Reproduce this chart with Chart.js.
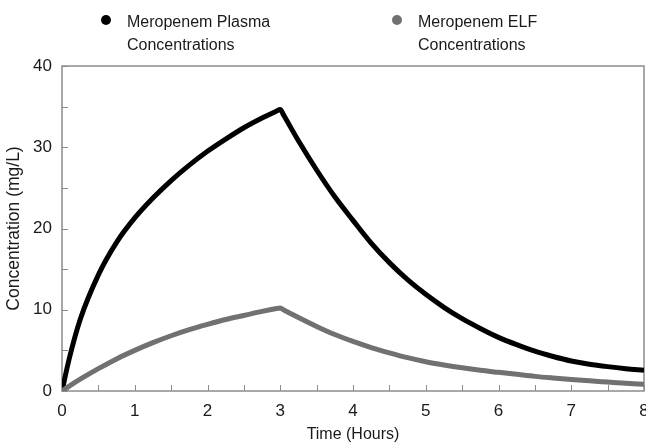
<!DOCTYPE html>
<html lang="en">
  <head>
    <meta charset="UTF-8" />
    <title>Meropenem concentrations</title>
    <style>
      html, body { margin: 0; padding: 0; background: #fff; }
      #wrap { width: 646px; height: 443px; }
    </style>
    <script src="https://cdn.jsdelivr.net/npm/chart.js"></script>
  </head>
  <body>
    <div id="wrap"><canvas id="myChart" width="646" height="443"></canvas></div>
    <script>
      // values
      const hours = [0, 0.1, 0.25, 0.5, 0.75, 1, 1.25, 1.5, 1.75, 2, 2.25, 2.5, 2.75, 2.95, 3, 3.05, 3.25, 3.5, 3.75, 4, 4.25, 4.5, 4.75, 5, 5.25, 5.5, 5.75, 6, 6.25, 6.5, 6.75, 7, 7.25, 7.5, 7.75, 8];
      const plasma = [0, 4.0, 8.8, 14.3, 18.3, 21.3, 23.75, 25.9, 27.8, 29.5, 31.0, 32.4, 33.6, 34.45, 34.65, 33.9, 30.8, 27.2, 23.9, 21.0, 18.2, 15.8, 13.7, 11.9, 10.3, 8.9, 7.7, 6.6, 5.7, 4.9, 4.25, 3.7, 3.3, 3.0, 2.75, 2.55];
      const elf = [0, 0.6, 1.45, 2.75, 3.95, 5.0, 5.95, 6.8, 7.55, 8.2, 8.8, 9.3, 9.8, 10.15, 10.22, 9.97, 9.05, 7.95, 6.95, 6.1, 5.35, 4.7, 4.1, 3.6, 3.2, 2.85, 2.55, 2.3, 2.05, 1.8, 1.6, 1.42, 1.25, 1.1, 0.95, 0.82];
      const seriesNames = [["Meropenem Plasma", "Concentrations"], ["Meropenem ELF", "Concentrations"]];
      const seriesColors = ["#000000", "#717171"];
      const xTicks = [0, 1, 2, 3, 4, 5, 6, 7, 8];
      const yTicks = [0, 10, 20, 30, 40];

      const FONT = "'Liberation Sans', Arial, sans-serif";
      const AXIS = "#8c8c8c";

      // box round the plot and small inward ticks
      const frame = {
        id: "frame",
        beforeDatasetsDraw(chart) {
          const {ctx, chartArea: a, scales} = chart;
          ctx.save();
          ctx.strokeStyle = AXIS;
          ctx.lineWidth = 1.5;
          ctx.strokeRect(a.left, a.top, a.right - a.left, a.bottom - a.top);
          ctx.lineWidth = 1;
          ctx.beginPath();
          for (let v = 0; v <= 8; v += 0.5) {
            const x = Math.round(scales.x.getPixelForValue(v)) + 0.5;
            ctx.moveTo(x, a.bottom);
            ctx.lineTo(x, a.bottom - 6);
          }
          for (let v = 0; v <= 40; v += 5) {
            const y = Math.round(scales.y.getPixelForValue(v)) + 0.5;
            ctx.moveTo(a.left, y);
            ctx.lineTo(a.left + 6, y);
          }
          ctx.stroke();
          ctx.restore();
        },
        afterDraw(chart) {
          // legend on top, two lines per entry
          const ctx = chart.ctx;
          const spots = [106, 397];
          ctx.save();
          ctx.font = "16px " + FONT;
          ctx.textBaseline = "alphabetic";
          seriesNames.forEach((lines, i) => {
            ctx.beginPath();
            ctx.fillStyle = seriesColors[i];
            ctx.arc(spots[i], 20, 5, 0, Math.PI * 2);
            ctx.fill();
            ctx.fillStyle = "#1a1a1a";
            lines.forEach((t, j) => ctx.fillText(t, spots[i] + 21, 27 + j * 23));
          });
          ctx.restore();
        }
      };

      new Chart(document.getElementById("myChart"), {
        type: "scatter",
        data: {
          datasets: [
            { label: seriesNames[0].join(" "), data: hours.map((h, i) => ({x: h, y: plasma[i]})) },
            { label: seriesNames[1].join(" "), data: hours.map((h, i) => ({x: h, y: elf[i]})) }
          ].map((d, i) => ({
            ...d,
            showLine: true,
            borderColor: seriesColors[i],
            borderWidth: 5,
            pointRadius: 0,
            cubicInterpolationMode: "monotone",
            order: 1 - i
          }))
        },
        options: {
          responsive: false,
          animation: false,
          layout: { padding: { top: 66, right: 2, left: 0, bottom: 0 } },
          plugins: { legend: { display: false }, tooltip: { enabled: false } },
          scales: {
            x: {
              type: "linear",
              min: 0,
              max: 8,
              afterFit: (s) => { s.height = 52; s.paddingLeft = 0; s.paddingRight = 0; },
              afterBuildTicks: (s) => { s.ticks = xTicks.map((v) => ({value: v})); },
              grid: { display: false, drawTicks: false },
              border: { display: false },
              ticks: { color: "#1a1a1a", font: { family: FONT, size: 17 }, padding: 10, maxRotation: 0 },
              title: {
                display: true,
                text: "Time (Hours)",
                color: "#1a1a1a",
                font: { family: FONT, size: 16, lineHeight: 1 },
                padding: 0
              }
            },
            y: {
              min: 0,
              max: 40,
              afterFit: (s) => { s.width = 62; s.paddingTop = 0; s.paddingBottom = 0; },
              afterBuildTicks: (s) => { s.ticks = yTicks.map((v) => ({value: v})); },
              grid: { display: false, drawTicks: false },
              border: { display: false },
              ticks: { color: "#1a1a1a", font: { family: FONT, size: 17 }, padding: 10 },
              title: {
                display: true,
                text: "Concentration (mg/L)",
                color: "#1a1a1a",
                font: { family: FONT, size: 17.5 },
                padding: { top: 4, bottom: 0 }
              }
            }
          }
        },
        plugins: [frame]
      });
    </script>
  </body>
</html>
